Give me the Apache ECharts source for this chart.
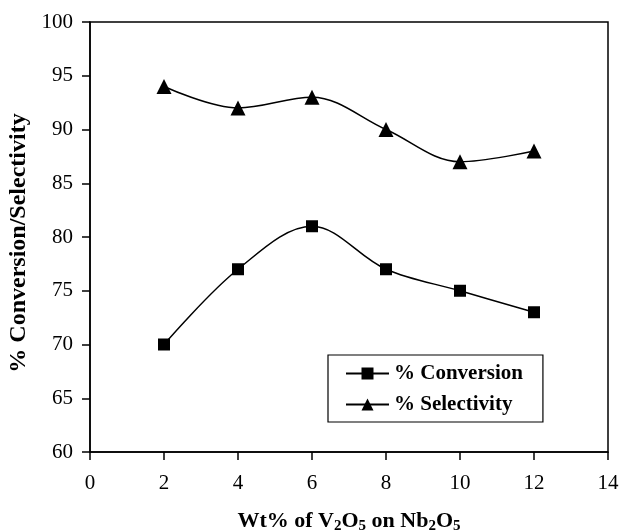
<!DOCTYPE html>
<html>
<head>
<meta charset="utf-8">
<script src="https://cdn.jsdelivr.net/npm/echarts@6/dist/echarts.min.js"></script>
<style>
  html, body { margin: 0; padding: 0; background: #fff; }
  #chart { width: 621px; height: 530px; }
</style>
</head>
<body>
<div id="chart"></div>
<script>
// data
const wtLoading = [2, 4, 6, 8, 10, 12];
const conversion = [70, 77, 81, 77, 75, 73];
const selectivity = [94, 92, 93, 90, 87, 88];

const FONT = '"Liberation Serif", "Times New Roman", serif';

const toPairs = (xs, ys) => xs.map((x, i) => [x, ys[i]]);

const myChart = echarts.init(document.getElementById('chart'));
const option = {
  animation: false,
  textStyle: { fontFamily: FONT, color: '#000' },
  grid: {
    left: 90, right: 13, top: 22, bottom: 78,
    outerBoundsMode: 'none',
    show: true, borderColor: '#000', borderWidth: 1.5
  },
  legend: {
    orient: 'vertical',
    left: 328, top: 355,
    padding: [8, 20, 7, 17],
    itemWidth: 43, itemHeight: 15, itemGap: 10,
    borderColor: '#000', borderWidth: 1.2,
    textStyle: { fontFamily: FONT, fontSize: 21, fontWeight: 'bold', color: '#000' },
    data: ['% Conversion', '% Selectivity']
  },
  xAxis: {
    type: 'value', min: 0, max: 14, interval: 2,
    name: '{a|Wt% of V}{s|2}{a|O}{s|5}{a| on Nb}{s|2}{a|O}{s|5}',
    nameLocation: 'middle', nameGap: 57,
    nameTextStyle: {
      rich: {
        a: { fontFamily: FONT, fontSize: 22, fontWeight: 'bold', color: '#000' },
        s: { fontFamily: FONT, fontSize: 15, fontWeight: 'bold', color: '#000', padding: [10, 0, 0, 0] }
      }
    },
    axisLine: { lineStyle: { color: '#000', width: 1.5 } },
    axisTick: { show: true, length: 8, lineStyle: { color: '#000', width: 1.5 } },
    axisLabel: { fontFamily: FONT, fontSize: 21, color: '#000', margin: 21 },
    splitLine: { show: false }
  },
  yAxis: {
    type: 'value', min: 60, max: 100, interval: 5,
    name: '% Conversion/Selectivity',
    nameLocation: 'middle', nameGap: 58,
    nameTextStyle: { fontFamily: FONT, fontSize: 24, fontWeight: 'bold', color: '#000', padding: [0, 12, 0, 0] },
    axisLine: { lineStyle: { color: '#000', width: 1.5 } },
    axisTick: { show: true, length: 8, lineStyle: { color: '#000', width: 1.5 } },
    axisLabel: { fontFamily: FONT, fontSize: 21, color: '#000', margin: 17 },
    splitLine: { show: false }
  },
  series: [
    {
      name: '% Conversion',
      type: 'line',
      smooth: 0.35,
      data: toPairs(wtLoading, conversion),
      symbol: 'rect', symbolSize: 12,
      itemStyle: { color: '#000' },
      lineStyle: { color: '#000', width: 1.5 }
    },
    {
      name: '% Selectivity',
      type: 'line',
      smooth: 0.35,
      data: toPairs(wtLoading, selectivity),
      symbol: 'triangle', symbolSize: 15,
      itemStyle: { color: '#000' },
      lineStyle: { color: '#000', width: 1.5 }
    }
  ]
};
myChart.setOption(option);
</script>
</body>
</html>
